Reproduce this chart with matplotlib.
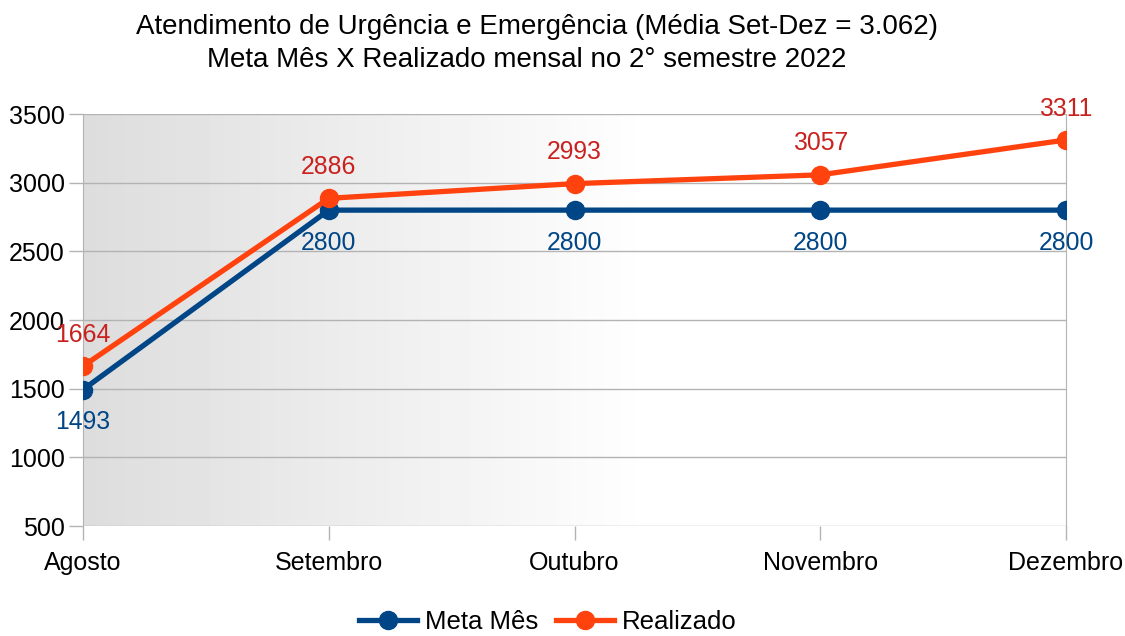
import numpy as np
import matplotlib.pyplot as plt

plt.rcParams['font.family'] = ['Liberation Sans', 'DejaVu Sans']

meses = ['Agosto', 'Setembro', 'Outubro', 'Novembro', 'Dezembro']
meta = [1493, 2800, 2800, 2800, 2800]
realizado = [1664, 2886, 2993, 3057, 3311]

fig = plt.figure(figsize=(11.25, 6.36), dpi=100)
ax = fig.add_axes([83/1125, 1-526/636, (1066-83)/1125, (526-114)/636])

# fundo cinza -> branco
t = np.linspace(0, 1, 256)
shade = np.clip(0.865 + (1 - 0.865) * t / 0.58, 0, 1)
img = np.tile(shade, (2, 1))
ax.imshow(img, cmap='gray', vmin=0, vmax=1, aspect='auto',
          extent=[0, 1, 0, 1], transform=ax.transAxes, zorder=0)

x = np.arange(len(meses))
ax.plot(x, meta, color='#004586', lw=3.8, marker='o', ms=13, label='Meta Mês', zorder=3)
ax.plot(x, realizado, color='#ff420e', lw=3.8, marker='o', ms=13, label='Realizado', zorder=4)

for xi, v in zip(x, meta):
    ax.annotate(str(v), (xi, v), xytext=(0, -15), textcoords='offset points',
                ha='center', va='top', color='#004586', fontsize=17.8)
for xi, v in zip(x, realizado):
    ax.annotate(str(v), (xi, v), xytext=(0, 14), textcoords='offset points',
                ha='center', va='bottom', color='#c9211e', fontsize=17.8)

ax.set_xlim(0, 4)
ax.set_ylim(500, 3500)
ax.set_yticks(range(500, 3501, 500))
ax.set_xticks(x)
ax.set_xticklabels(meses)
ax.grid(axis='y', color='#b3b3b3', lw=1)
ax.set_axisbelow(True)
for s in ['top', 'bottom']:
    ax.spines[s].set_visible(False)
for s in ['left', 'right']:
    ax.spines[s].set_color('#b3b3b3')
ax.tick_params(colors='#b3b3b3', labelcolor='black', labelsize=18, length=10, width=1)
ax.tick_params(axis='x', pad=8)
ax.tick_params(axis='y', pad=3)

fig.text(537/1125, 1-27/636, 'Atendimento de Urgência e Emergência (Média Set-Dez = 3.062)',
         ha='center', va='center', fontsize=20)
fig.text(527/1125, 1-60/636, 'Meta Mês X Realizado mensal no 2° semestre 2022',
         ha='center', va='center', fontsize=20)

fig.legend(loc='center', bbox_to_anchor=(548/1125, 1-622/636), ncol=2, frameon=False,
           fontsize=18.5, handlelength=2.25, columnspacing=0.7, handletextpad=0.3)

fig.savefig('out.png', dpi=100)
